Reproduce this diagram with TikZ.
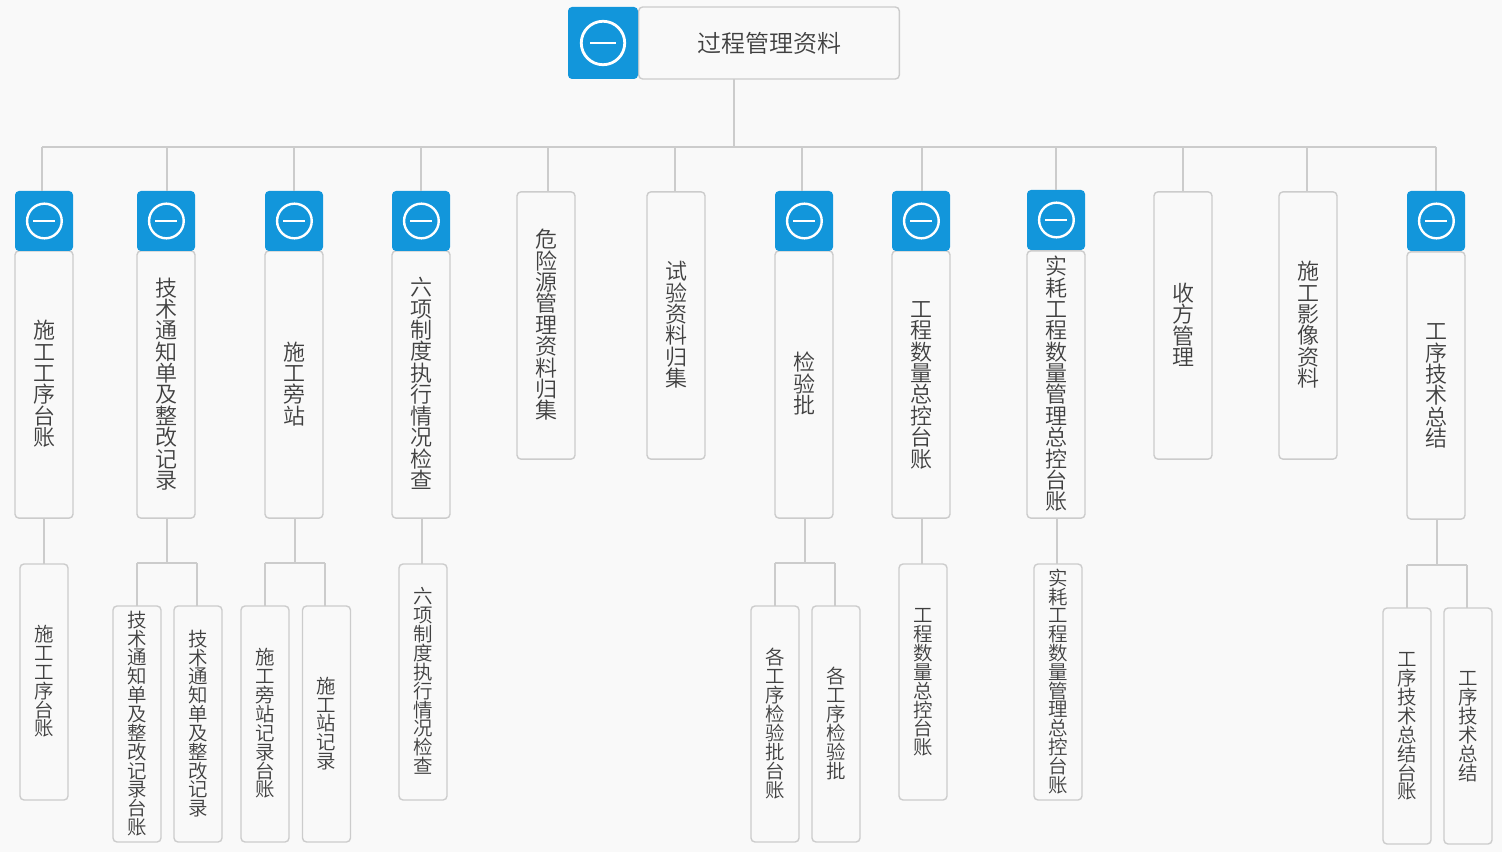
\documentclass[tikz,border=0pt]{standalone}
\usepackage{fontspec}
\setmainfont{Noto Sans CJK SC DemiLight}
\definecolor{bg}{HTML}{F9F9F9}
\definecolor{bluefill}{HTML}{1296DB}
\definecolor{edge}{HTML}{CCCCCC}
\definecolor{ink}{HTML}{404040}
\makeatletter
\newcommand{\vstack}[3]{\vbox{\offinterlineskip\fontsize{#1}{#2}\selectfont\@tfor\vchar:=#3\do{\hbox to #1{\hss\vchar\hss\vrule height .86\dimexpr#2\relax depth .14\dimexpr#2\relax width 0pt}}}}
\makeatother
\newcommand{\vA}[1]{\kern1pt\vstack{16.5pt}{16pt}{#1}}
\newcommand{\vB}[1]{\vstack{14.6pt}{14.03pt}{#1}}
\tikzset{
  x=0.75pt,y=-0.75pt,
  card/.style={draw=edge,fill=bg,line width=1.05pt,rounded corners=3pt,inner sep=0pt,outer sep=0pt,text=ink},
  upper/.style={card,minimum width=43.5pt,minimum height=200.5pt},
  lower/.style={card,minimum width=36pt,minimum height=177pt},
  tile/.style={fill=bluefill,draw=none,rounded corners=3pt,inner sep=0pt,outer sep=0pt,minimum width=43.5pt,minimum height=45pt},
  wire/.style={draw=edge,line width=1.2pt},
  ring/.style={draw=white,line width=1.8pt},
}
\begin{document}
\begin{tikzpicture}
\useasboundingbox[fill=bg] (0,0) rectangle (1502,852);
% root
\node[card,minimum width=195.5pt,minimum height=54pt,font=\fontsize{18pt}{20pt}\selectfont] (root) at (769,43) {\hspace{1pt}过程管理资料};
\node[tile,minimum width=52.5pt,minimum height=54pt] (rootT) at (603,43) {};
\draw[ring,line width=2.1pt] (rootT.center) circle[radius=16.3pt];
\draw[white,line width=1.4pt] (590,43) -- (616,43);
% level one
\newcommand{\upT}[3]{\node[tile] (#1T) at (#2,#3) {};\draw[ring] ([xshift=.3pt]#1T.center) circle[radius=13pt];\draw[white,line width=1.4pt] ([xshift=-8pt]#1T.center) -- ([xshift=8.5pt]#1T.center);}
\node[upper] (a) at (44,384.5) {\vA{施工工序台账}};
\node[upper] (b) at (166,384.5) {\vA{技术通知单及整改记录}};
\node[upper] (c) at (294,384.5) {\vA{施工旁站}};
\node[upper] (d) at (421,384.5) {\vA{六项制度执行情况检查}};
\node[upper] (e) at (546,325.5) {\vA{危险源管理资料归集}};
\node[upper] (f) at (676,325.5) {\vA{试验资料归集}};
\node[upper] (g) at (804,384.5) {\vA{检验批}};
\node[upper] (h) at (921,384.5) {\vA{工程数量总控台账}};
\node[upper] (i) at (1056,384.5) {\vA{实耗工程数量管理总控台账}};
\node[upper] (j) at (1183,325.5) {\vA{收方管理}};
\node[upper] (k) at (1308,325.5) {\vA{施工影像资料}};
\node[upper] (l) at (1436,385.5) {\vA{工序技术总结}};
\upT{a}{44}{221}
\upT{b}{166}{221}
\upT{c}{294}{221}
\upT{d}{421}{221}
\upT{g}{804}{221}
\upT{h}{921}{221}
\upT{i}{1056}{220}
\upT{l}{1436}{221}
% level two
\node[lower] (a1) at (44,682) {\vB{施工工序台账}};
\node[lower] (b1) at (137,724) {\vB{技术通知单及整改记录台账}};
\node[lower] (b2) at (198,724) {\vB{技术通知单及整改记录}};
\node[lower] (c1) at (265,724) {\vB{施工旁站记录台账}};
\node[lower] (c2) at (326.5,724) {\vB{施工站记录}};
\node[lower] (d1) at (423,682) {\vB{六项制度执行情况检查}};
\node[lower] (g1) at (775,724) {\vB{各工序检验批台账}};
\node[lower] (g2) at (836,724) {\vB{各工序检验批}};
\node[lower] (h1) at (923,682) {\vB{工程数量总控台账}};
\node[lower] (i1) at (1058,682) {\vB{实耗工程数量管理总控台账}};
\node[lower] (l1) at (1407,726) {\vB{工序技术总结台账}};
\node[lower] (l2) at (1468,726) {\vB{工序技术总结}};
% connectors
\coordinate (bus) at (734,147);
\coordinate (stem) at (734,79.5);
\draw[wire] (stem) -- (bus);
\draw[wire] (42,147) -- (1436,147);
\draw[wire] (bus -| 42,0) -- ([xshift=-1.5pt]aT.north);
\draw[wire] (bus -| 167,0) -- ([xshift=.75pt]bT.north);
\draw[wire] (bus -| cT.north) -- (cT.north);
\draw[wire] (bus -| dT.north) -- (dT.north);
\draw[wire] (bus -| 548,0) -- ([xshift=1.5pt]e.north);
\draw[wire] (bus -| 675,0) -- ([xshift=-.75pt]f.north);
\draw[wire] (bus -| 802,0) -- ([xshift=-1.5pt]gT.north);
\draw[wire] (bus -| 922,0) -- ([xshift=.75pt]hT.north);
\draw[wire] (bus -| iT.north) -- (iT.north);
\draw[wire] (bus -| j.north) -- (j.north);
\draw[wire] (bus -| 1307,0) -- ([xshift=-.75pt]k.north);
\draw[wire] (bus -| lT.north) -- (lT.north);
\draw[wire] (a.south) -- (a1.north);
\draw[wire] ([xshift=.75pt]b.south) -- ++(0,45) coordinate (bj);
\draw[wire] (bj -| 137,0) -- (bj -| 197,0);
\draw[wire] (bj -| b1.north) -- (b1.north);
\draw[wire] (bj -| 197,0) -- ([xshift=-.75pt]b2.north);
\draw[wire] ([xshift=.75pt]c.south) -- ++(0,45) coordinate (cj);
\draw[wire] (cj -| c1.north) -- (cj -| 325,0);
\draw[wire] (cj -| c1.north) -- (c1.north);
\draw[wire] (cj -| 325,0) -- ([xshift=-1.1pt]c2.north);
\draw[wire] ([xshift=.75pt]d.south) -- ([xshift=-.75pt]d1.north);
\draw[wire] ([xshift=.75pt]g.south) -- ++(0,45) coordinate (gj);
\draw[wire] (gj -| g1.north) -- (gj -| 835,0);
\draw[wire] (gj -| g1.north) -- (g1.north);
\draw[wire] (gj -| 835,0) -- ([xshift=-.75pt]g2.north);
\draw[wire] ([xshift=.75pt]h.south) -- ([xshift=-.75pt]h1.north);
\draw[wire] ([xshift=.75pt]i.south) -- ([xshift=-.75pt]i1.north);
\draw[wire] ([xshift=.75pt]l.south) -- ++(0,46) coordinate (lj);
\draw[wire] (lj -| l1.north) -- (lj -| 1467,0);
\draw[wire] (lj -| l1.north) -- (l1.north);
\draw[wire] (lj -| 1467,0) -- ([xshift=-.75pt]l2.north);
\end{tikzpicture}
\end{document}
